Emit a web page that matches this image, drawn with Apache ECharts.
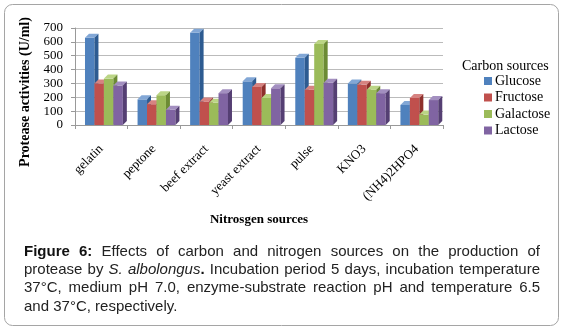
<!DOCTYPE html>
<html>
<head>
<meta charset="utf-8">
<script src="https://cdn.jsdelivr.net/npm/echarts@6/dist/echarts.min.js"></script>
<style>
  html, body { margin: 0; padding: 0; background: #fff; }
  #chart { width: 564px; height: 330px; }
</style>
</head>
<body>
<div id="chart"></div>
<script>
// nitrogen sources on the x axis
const categories = ['gelatin', 'peptone', 'beef extract', 'yeast extract', 'pulse', 'KNO3', '(NH4)2HPO4'];
const seriesNames = ['Glucose', 'Fructose', 'Galactose', 'Lactose'];

// protease activity (U/ml)
const glucose = [630, 185, 665, 315, 485, 300, 145];
const fructose = [300, 150, 170, 275, 255, 290, 195];
const galactose = [335, 215, 160, 195, 585, 255, 75];
const lactose = [285, 110, 230, 265, 305, 230, 180];
const yTicks = [0, 100, 200, 300, 400, 500, 600, 700];

const captionLines = [
    ['b:Figure', 'b:6:', 'Effects', 'of', 'carbon', 'and', 'nitrogen', 'sources', 'on', 'the', 'production', 'of'],
    ['protease', 'by', 'i:S.', 'i:albolongus|b:.', 'Incubation', 'period', '5', 'days,', 'incubation', 'temperature'],
    ['37°C,', 'medium', 'pH', '7.0,', 'enzyme-substrate', 'reaction', 'pH', 'and', 'temperature', '6.5'],
    ['and', '37°C,', 'respectively.']
];

const values = [glucose, fructose, galactose, lactose];
const front = ['#4F81BD', '#C0504D', '#9BBB59', '#8064A2'];
const side = ['#2D5B91', '#8E2F2C', '#6C8B34', '#553F73'];
const topc = ['#82A7D6', '#D68381', '#BBD585', '#A38FC0'];
const serif = '"Liberation Serif", "Times New Roman", serif';
const sans = '"Liberation Sans", Arial, sans-serif';

const chart = echarts.init(document.getElementById('chart'));

function renderBar(params, api) {
    const si = params.seriesIndex;
    const top = api.coord([api.value(0), api.value(1)]);
    const base = api.coord([api.value(0), 0]);
    const band = api.size([1, 0])[0];
    const bw = band * 0.18;
    const d = 4;
    const x0 = top[0] - band / 2 + band * 0.19 + si * bw;
    const ty = top[1], by = base[1];
    return {
        type: 'group',
        children: [
            {type: 'rect', shape: {x: x0, y: ty, width: bw, height: by - ty}, style: {fill: front[si]}},
            {type: 'polygon', shape: {points: [[x0, ty], [x0 + d, ty - d], [x0 + bw + d, ty - d], [x0 + bw, ty]]}, style: {fill: topc[si]}},
            {type: 'polygon', shape: {points: [[x0 + bw, ty], [x0 + bw + d, ty - d], [x0 + bw + d, by - d], [x0 + bw, by]]}, style: {fill: side[si]}}
        ]
    };
}

// caption, justified like the journal layout
const ctx = document.createElement('canvas').getContext('2d');
function fontOf(kind) {
    if (kind === 'b') return 'bold 15px ' + sans;
    if (kind === 'i') return 'italic 15px ' + sans;
    return '15px ' + sans;
}
function parseWord(w) {
    return w.split('|').map(function (s) {
        if (s.indexOf('b:') === 0) return {t: s.slice(2), k: 'b'};
        if (s.indexOf('i:') === 0) return {t: s.slice(2), k: 'i'};
        return {t: s, k: 'n'};
    });
}
const capLeft = 24, capRight = 540, capTop = 251.5, capStep = 18.3;
const captionGraphics = [];
captionLines.forEach(function (line, li) {
    const words = line.map(function (w) {
        const segs = parseWord(w);
        let width = 0;
        segs.forEach(function (s) {
            ctx.font = fontOf(s.k);
            s.w = ctx.measureText(s.t).width;
            width += s.w;
        });
        return {segs: segs, width: width};
    });
    const total = words.reduce(function (a, w) { return a + w.width; }, 0);
    ctx.font = fontOf('n');
    let gap = ctx.measureText(' ').width;
    if (li < captionLines.length - 1) gap = (capRight - capLeft - total) / (words.length - 1);
    let x = capLeft;
    const y = capTop + li * capStep;
    words.forEach(function (w) {
        let sx = x;
        w.segs.forEach(function (s) {
            captionGraphics.push({
                type: 'text', x: sx, y: y,
                style: {text: s.t, font: fontOf(s.k), fill: s.k === 'b' ? '#111' : '#222', textVerticalAlign: 'middle'}
            });
            sx += s.w;
        });
        x += w.width + gap;
    });
});

const option = {
    animation: false,
    backgroundColor: '#fff',
    grid: {left: 75, right: 121, top: 28, bottom: 205, containLabel: false, outerBoundsMode: 'none'},
    legend: {
        data: seriesNames,
        orient: 'vertical',
        left: 479,
        top: 69,
        itemWidth: 8,
        itemHeight: 8,
        itemGap: 2.5,
        icon: 'rect',
        textStyle: {fontFamily: serif, fontSize: 14, color: '#000', padding: [0, 0, 0, -2]}
    },
    xAxis: {
        type: 'category',
        data: categories,
        name: 'Nitrosgen sources',
        nameLocation: 'middle',
        nameGap: 88,
        nameTextStyle: {fontFamily: serif, fontSize: 13, fontWeight: 'bold', color: '#000'},
        axisLine: {lineStyle: {color: '#999'}},
        axisTick: {show: true, length: 4, lineStyle: {color: '#999'}},
        axisLabel: {rotate: 45, margin: 22, fontFamily: serif, fontSize: 13, color: '#000'}
    },
    yAxis: {
        type: 'value',
        min: yTicks[0],
        max: yTicks[yTicks.length - 1],
        interval: 100,
        axisLine: {show: true, lineStyle: {color: '#999'}},
        axisTick: {show: true, length: 4, lineStyle: {color: '#999'}},
        axisLabel: {margin: 12, fontFamily: serif, fontSize: 13, color: '#000'},
        splitLine: {lineStyle: {color: '#bbb'}}
    },
    series: seriesNames.map(function (name, i) {
        return {
            name: name,
            type: 'custom',
            renderItem: renderBar,
            itemStyle: {color: front[i]},
            encode: {x: 0, y: 1},
            data: values[i].map(function (v, ci) { return [ci, v]; })
        };
    }),
    graphic: [
        {type: 'rect', shape: {x: 4.5, y: 4.5, width: 554, height: 321, r: 8}, style: {fill: 'none', stroke: '#a5a5a5', lineWidth: 1}},
        {type: 'text', x: 25, y: 92, rotation: Math.PI / 2,
            style: {text: 'Protease activities (U/ml)', font: 'bold 14px ' + serif, fill: '#000', textAlign: 'center', textVerticalAlign: 'middle'}},
        {type: 'text', x: 462, y: 66,
            style: {text: 'Carbon sources', font: '14px ' + serif, fill: '#000', textVerticalAlign: 'middle'}}
    ].concat(captionGraphics)
};

chart.setOption(option);
</script>
</body>
</html>
